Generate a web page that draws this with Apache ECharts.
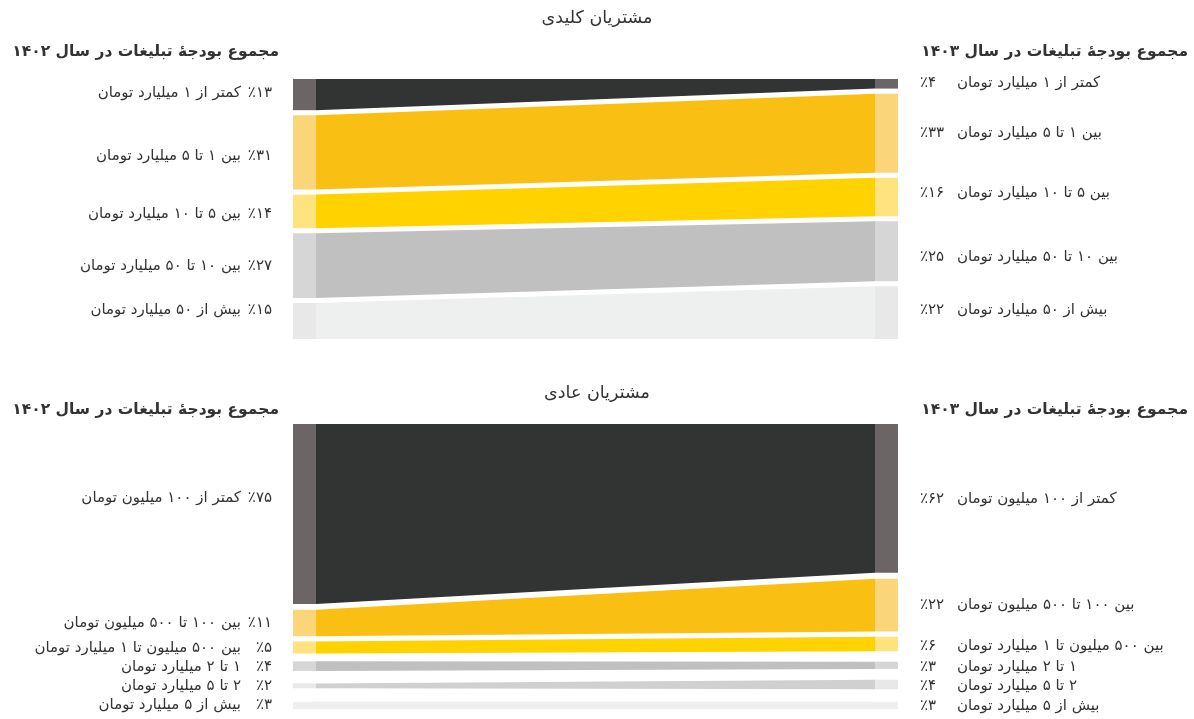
<!DOCTYPE html>
<html><head><meta charset="utf-8">
<script src="https://cdn.jsdelivr.net/npm/echarts@6/dist/echarts.min.js"></script>
<style>html,body{margin:0;padding:0;background:#fff}#c{width:1194px;height:719px}</style>
</head><body><div id="c"></div>
<script>
// ---- data ----
const keyTitle = 'مشتریان کلیدی';
const regularTitle = 'مشتریان عادی';
const header1402 = 'مجموع بودجهٔ تبلیغات در سال ۱۴۰۲';
const header1403 = 'مجموع بودجهٔ تبلیغات در سال ۱۴۰۳';
const keyCategories = ['کمتر از ۱ میلیارد تومان','بین ۱ تا ۵ میلیارد تومان','بین ۵ تا ۱۰ میلیارد تومان','بین ۱۰ تا ۵۰ میلیارد تومان','بیش از ۵۰ میلیارد تومان'];
const key1402 = [13, 31, 14, 27, 15];
const key1403 = [4, 33, 16, 25, 22];
const regularCategories = ['کمتر از ۱۰۰ میلیون تومان','بین ۱۰۰ تا ۵۰۰ میلیون تومان','بین ۵۰۰ میلیون تا ۱ میلیارد تومان','۱ تا ۲ میلیارد تومان','۲ تا ۵ میلیارد تومان','بیش از ۵ میلیارد تومان'];
const regular1402 = [75, 11, 5, 4, 2, 3];
const regular1403 = [62, 22, 6, 3, 4, 3];

// ---- layout / style ----
const RLM = '\u200F';
const toFa = n => String(n).replace(/\d/g, d => '۰۱۲۳۴۵۶۷۸۹'[d]);
const NODE_W = 23 / 605;
const FONT = '"DejaVu Sans", "Noto Sans", sans-serif';
const TEXT = '#333333';
const LABEL_DY = 1.5;
const panels = [
  { cats: keyCategories, left: key1402, right: key1403,
    gapsL: [2.1, 2.1, 2.1, 2.1], gapsR: [2.1, 2.1, 2.1, 2.1],
    top: 79, height: 260,
    band: ['#323333', '#f9c013', '#ffd200', '#bfc0bf', '#eef0ef'],
    node: ['#6b6665', '#fad57a', '#fee37f', '#d5d6d5', '#e8e8e8'],
    shiftL: [-3, 2, 1, -1, -12], shiftR: [-2, -2, -5, 4, -4] },
  { cats: regularCategories, left: regular1402, right: regular1403,
    gapsL: [2.4, 2.2, 3.3, 5.2, 5.65], gapsR: [2.45, 2.2, 4.4, 4.5, 5.2],
    top: 424, height: 285,
    band: ['#323333', '#f9c013', '#ffd200', '#bfc0bf', '#d0d0d0', '#eef0ef'],
    node: ['#6b6665', '#fad57a', '#fee37f', '#d5d6d5', '#e8e8e8', '#eeefef'],
    shiftL: [-17, -1, -1, -1, -1, -2], shiftR: [-1, -1, 1, 0, 0, -1] }
];

function stackPositions(vals, gaps) {
  const out = []; let y = 0;
  vals.forEach((v, i) => { out.push([y, y + v]); y += v + (i < gaps.length ? gaps[i] : 0); });
  return { pos: out, total: y };
}

const grids = [], xAxes = [], yAxes = [], series = [];
panels.forEach((pn, k) => {
  const L = stackPositions(pn.left, pn.gapsL), R = stackPositions(pn.right, pn.gapsR);
  const total = Math.max(L.total, R.total);
  grids.push({ left: 293, width: 605, top: pn.top, height: pn.height });
  xAxes.push({ type: 'value', gridIndex: k, min: 0, max: 1, show: false });
  yAxes.push({ type: 'value', gridIndex: k, min: 0, max: total, inverse: true, show: false });
  const data = pn.cats.map((c, i) => [i, L.pos[i][0], L.pos[i][1], R.pos[i][0], R.pos[i][1]]);
  series.push({
    type: 'custom', xAxisIndex: k, yAxisIndex: k, silent: true, animation: false,
    data: data,
    renderItem: function (params, api) {
      const i = api.value(0);
      const l0 = api.value(1), l1 = api.value(2), r0 = api.value(3), r1 = api.value(4);
      const p = (x, y) => api.coord([x, y]);
      const a0 = p(0, l0), a1 = p(NODE_W, l1);
      const b0 = p(1 - NODE_W, r0), b1 = p(1, r1);
      const yl = (a0[1] + a1[1]) / 2 + pn.shiftL[i] + LABEL_DY;
      const yr = (b0[1] + b1[1]) / 2 + pn.shiftR[i] + LABEL_DY;
      const ts = { fontSize: 15, fontFamily: FONT, fill: TEXT, verticalAlign: 'middle' };
      return { type: 'group', children: [
        { type: 'polygon', shape: { points: [p(NODE_W, l0), p(1 - NODE_W, r0), p(1 - NODE_W, r1), p(NODE_W, l1)] },
          style: { fill: pn.band[i] } },
        { type: 'rect', shape: { x: a0[0], y: a0[1], width: a1[0] - a0[0], height: a1[1] - a0[1] }, style: { fill: pn.node[i] } },
        { type: 'rect', shape: { x: b0[0], y: b0[1], width: b1[0] - b0[0], height: b1[1] - b0[1] }, style: { fill: pn.node[i] } },
        { type: 'text', style: Object.assign({ x: a0[0] - 21, y: yl, text: '٪' + toFa(pn.left[i]), align: 'right' }, ts) },
        { type: 'text', style: Object.assign({ x: a0[0] - 52, y: yl, text: RLM + pn.cats[i], align: 'right' }, ts) },
        { type: 'text', style: Object.assign({ x: b1[0] + 22, y: yr, text: '٪' + toFa(pn.right[i]), align: 'left' }, ts) },
        { type: 'text', style: Object.assign({ x: b1[0] + 59, y: yr, text: RLM + pn.cats[i], align: 'left' }, ts) }
      ] };
    }
  });
});

const titleStyle = { fontSize: 17.5, fontFamily: FONT, fill: TEXT, align: 'center', verticalAlign: 'middle' };
const headStyle = { fontSize: 15.5, fontFamily: FONT, fontWeight: 'bold', fill: TEXT, verticalAlign: 'middle' };
const graphic = [
  { type: 'text', style: Object.assign({ x: 597, y: 18.5, text: keyTitle }, titleStyle) },
  { type: 'text', style: Object.assign({ x: 279, y: 52, text: RLM + header1402, align: 'right' }, headStyle) },
  { type: 'text', style: Object.assign({ x: 1188, y: 52, text: RLM + header1403, align: 'right' }, headStyle) },
  { type: 'text', style: Object.assign({ x: 597, y: 393.5, text: regularTitle }, titleStyle) },
  { type: 'text', style: Object.assign({ x: 279, y: 410, text: RLM + header1402, align: 'right' }, headStyle) },
  { type: 'text', style: Object.assign({ x: 1188, y: 410, text: RLM + header1403, align: 'right' }, headStyle) }
];

const chart = echarts.init(document.getElementById('c'), null, { renderer: 'canvas' });
chart.setOption({
  backgroundColor: '#ffffff', animation: false,
  grid: grids, xAxis: xAxes, yAxis: yAxes, series: series, graphic: graphic
});
</script></body></html>
